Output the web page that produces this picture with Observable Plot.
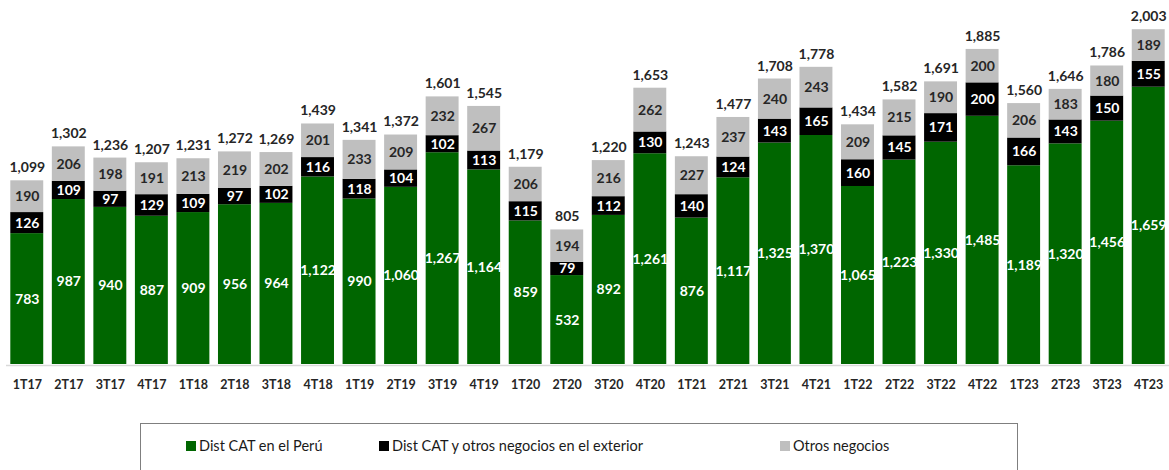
<!DOCTYPE html>
<html><head><meta charset="utf-8">
<script src="https://cdn.jsdelivr.net/npm/d3@7"></script>
<script src="https://cdn.jsdelivr.net/npm/@observablehq/plot@0.6"></script>
<style>
body{margin:0;background:#fff;font-family:Lato,"Open Sans",sans-serif;}
#chart{width:1169px;}
#chart svg{display:block;}
#legend{position:relative;margin-left:140px;margin-top:23px;width:878px;height:60px;border:1px solid #7f7f7f;box-sizing:border-box;}
.item{position:absolute;top:13px;font-size:14.5px;font-weight:normal;color:#1a1a1a;display:flex;align-items:center;white-space:nowrap;}
.sw{width:10px;height:10px;display:inline-block;margin-right:3px;}
</style></head>
<body>
<div id="chart"></div>
<script>
const quarters = ["1T17","2T17","3T17","4T17","1T18","2T18","3T18","4T18","1T19","2T19","3T19","4T19","1T20","2T20","3T20","4T20","1T21","2T21","3T21","4T21","1T22","2T22","3T22","4T22","1T23","2T23","3T23","4T23"];
const peru = [783,987,940,887,909,956,964,1122,990,1060,1267,1164,859,532,892,1261,876,1117,1325,1370,1065,1223,1330,1485,1189,1320,1456,1659];
const exterior = [126,109,97,129,109,97,102,116,118,104,102,113,115,79,112,130,140,124,143,165,160,145,171,200,166,143,150,155];
const otros = [190,206,198,191,213,219,202,201,233,209,232,267,206,194,216,262,227,237,240,243,209,215,190,200,206,183,180,189];
const totals = [1099,1302,1236,1207,1231,1272,1269,1439,1341,1372,1601,1545,1179,805,1220,1653,1243,1477,1708,1778,1434,1582,1691,1885,1560,1646,1786,2003];
const seriesNames = ["Dist CAT en el Perú","Dist CAT y otros negocios en el exterior","Otros negocios"];
const seriesColors = ["#006600","#000000","#bfbfbf"];
const labelColors = ["#ffffff","#ffffff","#262626"];

const rows = [];
quarters.forEach((q,i)=>{
  const vals=[peru[i],exterior[i],otros[i]];
  let base=0;
  vals.forEach((v,k)=>{
    rows.push({q, s:seriesNames[k], k, v, y1:base, y2:base+v, mid:base+v/2});
    base+=v;
  });
});
const tot = quarters.map((q,i)=>({q, t:totals[i], top:peru[i]+exterior[i]+otros[i]}));
const fmt = d3.format(",");

const plot = Plot.plot({
  width:1169, height:400,
  marginLeft:6, marginRight:0, marginTop:13, marginBottom:36,
  style:{fontFamily:"Lato, sans-serif", background:"#fff"},
  x:{domain:quarters, padding:0, round:false, label:null},
  y:{domain:[0,2100], axis:null},
  color:{domain:seriesNames, range:seriesColors},
  marks:[
    Plot.barY(rows,{x:"q", y1:"y1", y2:"y2", fill:"s", insetLeft:4.3, insetRight:4.3}),
    Plot.ruleY([0],{stroke:"#d9d9d9", strokeWidth:1.5, dy:1}),
    Plot.text(rows,{x:"q", y:"mid", text:d=>fmt(d.v), fill:d=>labelColors[d.k], fontSize:14, fontWeight:"bold"}),
    Plot.text(tot,{x:"q", y:"top", text:d=>fmt(d.t), dy:-13, fill:"#262626", fontSize:14, fontWeight:"bold"}),
    Plot.axisX({tickSize:0, tickPadding:16, fontSize:12.5, fontWeight:"bold", fill:"#262626", label:null})
  ]
});
const chart=document.getElementById("chart");
chart.appendChild(plot);
const lg=document.createElement("div"); lg.id="legend";
const lefts=[45,238,639];
seriesNames.forEach((n,k)=>{
  const it=document.createElement("div"); it.className="item"; it.style.left=lefts[k]+"px";
  it.innerHTML=`<span class="sw" style="background:${seriesColors[k]}"></span>${n}`;
  lg.appendChild(it);
});
chart.appendChild(lg);
</script>
</body></html>
